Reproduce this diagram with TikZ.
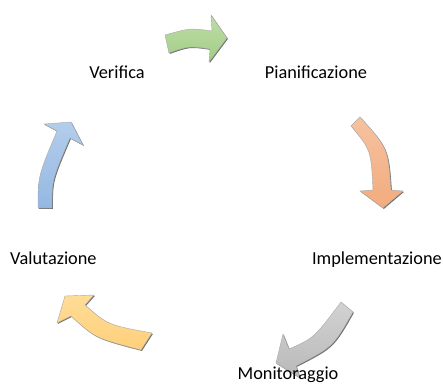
\documentclass[tikz,border=0pt]{standalone}
\usepackage{fontspec}
\setmainfont{Carlito}
\definecolor{gtop}{HTML}{BEDDA6}
\definecolor{gbot}{HTML}{A2CD86}
\definecolor{ptop}{HTML}{F7C2A0}
\definecolor{pbot}{HTML}{F2AB7E}
\definecolor{ytop}{HTML}{FFDC98}
\definecolor{ybot}{HTML}{FFD07A}
\definecolor{atop}{HTML}{D2D2D2}
\definecolor{abot}{HTML}{B9B9B9}
\definecolor{btop}{HTML}{B3CDEC}
\definecolor{bbot}{HTML}{95B8E1}
\definecolor{shd}{HTML}{6E6E6E}
\tikzset{
  lbl/.style={font=\fontsize{18.3}{22}\selectfont, inner sep=0pt, text=black},
  shadowfill/.style={fill=shd, shift={(0.9,0.9)}},
  arrowedge/.style={draw=shd!60, line width=0.4pt},
}
\begin{document}
\begin{tikzpicture}[x=1pt,y=-1pt]
\useasboundingbox (0,0) rectangle (443,383);
\fill[white] (0,0) rectangle (443,383);
% paths
\def\greenpath{(165,35) .. controls (190,28) .. (212,31) -- (211,15) -- (227,38) -- (209,62) -- (210,49) .. controls (189,46) .. (169,53) -- cycle}
\def\pinkpath{(351,126) -- (360,117) .. controls (388,148) .. (391,190) -- (403,191) -- (383,208) -- (360,191) -- (373,190) .. controls (371,150) .. (351,126) -- cycle}
\def\graypath{(341,302) -- (353,312) .. controls (333,347) .. (296,366) -- (300,378) -- (276,363) -- (283,334) -- (289,349) .. controls (314,338) .. (341,302) -- cycle}
\def\orangepath{(65,296) -- (94,295) -- (85,305) .. controls (108,325) .. (152,333) -- (141,350) .. controls (95,338) .. (71,316) -- (57,323) -- cycle}
\def\bluepath{(71,122) -- (83,145) -- (70,138) .. controls (52,180) .. (52,208) -- (38,208) .. controls (38,176) .. (57,131) -- (44,124) -- cycle}
% arrows
\fill[shadowfill] \greenpath;
\shade[top color=gtop, bottom color=gbot] \greenpath;
\draw[arrowedge] \greenpath;
\fill[shadowfill] \pinkpath;
\shade[top color=ptop, bottom color=pbot] \pinkpath;
\draw[arrowedge] \pinkpath;
\fill[shadowfill] \graypath;
\shade[top color=atop, bottom color=abot] \graypath;
\draw[arrowedge] \graypath;
\fill[shadowfill] \orangepath;
\shade[top color=ytop, bottom color=ybot] \orangepath;
\draw[arrowedge] \orangepath;
\fill[shadowfill] \bluepath;
\shade[top color=btop, bottom color=bbot] \bluepath;
\draw[arrowedge] \bluepath;
% labels
\node[lbl, anchor=base] (pian) at (316,78) {Pianificazione};
\node[lbl, anchor=base east] (impl) at (442,264) {Implementazione};
\node[lbl, anchor=base] (moni) at (288,379) {Monitoraggio};
\node[lbl, anchor=base west] (valu) at (10,264) {Valutazione};
\node[lbl, anchor=base] (veri) at (117,78) {Verifica};
\end{tikzpicture}
\end{document}
